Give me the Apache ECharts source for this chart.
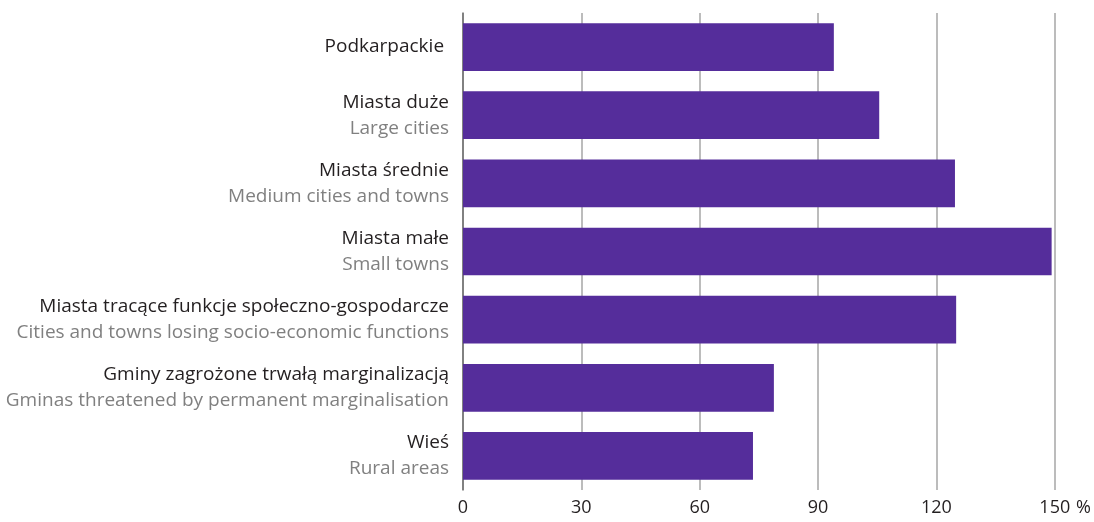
<!DOCTYPE html>
<html><head><meta charset="utf-8">
<script src="https://cdn.jsdelivr.net/npm/echarts@6/dist/echarts.min.js"></script>
<style>html,body{margin:0;padding:0;background:#fff}#c{width:1094px;height:522px}</style>
</head><body><div id="c"></div>
<script>
const categoriesPl = ['Podkarpackie ', 'Miasta duże', 'Miasta średnie', 'Miasta małe', 'Miasta tracące funkcje społeczno-gospodarcze', 'Gminy zagrożone trwałą marginalizacją', 'Wieś'];
const categoriesEn = ['', 'Large cities', 'Medium cities and towns', 'Small towns', 'Cities and towns losing socio-economic functions', 'Gminas threatened by permanent marginalisation', 'Rural areas'];
const values = [94, 105.5, 124.7, 149.2, 125, 78.8, 73.5];
const xTicks = [0, 30, 60, 90, 120, 150];

const FONT = '"Open Sans", sans-serif';
const cats = categoriesPl.map((p, i) => i + '');
const chart = echarts.init(document.getElementById('c'));
chart.setOption({
  animation: false,
  grid: { left: 463, right: 39, top: 13, bottom: 32, containLabel: false },
  xAxis: {
    type: 'value', min: xTicks[0], max: xTicks[xTicks.length - 1], interval: xTicks[1] - xTicks[0],
    name: '%', nameLocation: 'end', nameGap: 20,
    nameTextStyle: { fontFamily: FONT, fontSize: 18, color: '#231f20', verticalAlign: 'top', align: 'left', padding: [9, 0, 0, 0] },
    axisLine: { show: false }, axisTick: { show: false },
    axisLabel: { fontFamily: FONT, fontSize: 18, color: '#231f20', margin: 9 },
    splitLine: { show: true, lineStyle: { color: '#a6a6a6', width: 1.5 } }
  },
  yAxis: {
    type: 'category', inverse: true, data: cats,
    axisLine: { show: true, lineStyle: { color: '#6e6e6e', width: 1.5 } },
    axisTick: { show: false },
    axisLabel: {
      margin: 14,
      formatter: (v) => { const i = +v; return categoriesEn[i] ? '{a|' + categoriesPl[i] + '}\n{b|' + categoriesEn[i] + '}' : '{a|' + categoriesPl[i] + '}'; },
      rich: {
        a: { fontFamily: FONT, fontSize: 19, color: '#231f20', lineHeight: 26, align: 'right' },
        b: { fontFamily: FONT, fontSize: 19, color: '#808080', lineHeight: 26, align: 'right' }
      }
    }
  },
  series: [{
    type: 'bar', data: values, barCategoryGap: '30%',
    itemStyle: { color: '#552d9b' }
  }]
});
</script></body></html>
